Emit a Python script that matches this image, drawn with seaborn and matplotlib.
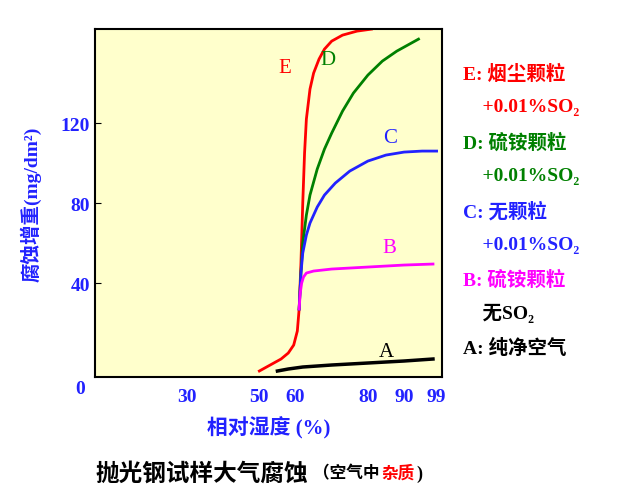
import matplotlib
matplotlib.use("Agg")
import matplotlib.pyplot as plt
import seaborn as sns
import pandas as pd

plt.rcParams["font.family"] = ["Liberation Serif", "Noto Sans CJK SC"]

E_x = [50, 53, 56, 58, 59.5, 60.5, 61, 61.5, 62, 62.5, 63, 64, 65, 66.5, 68, 70, 73, 77, 81]
E_y = [-4, -1, 2, 5, 9, 16, 27, 50, 80, 105, 122, 137, 145, 152, 157, 161, 164, 166, 167]
D_x = [61, 61.5, 62, 63, 64, 66, 68, 70, 73, 76, 80, 84, 88, 94]
D_y = [27, 45, 60, 74, 84, 97, 107, 115, 126, 135, 144, 151, 156, 162]
C_x = [61, 61.5, 62, 63, 64, 66, 68, 71, 75, 80, 85, 90, 95, 99]
C_y = [27, 45, 55, 64, 70, 78, 84, 90, 96, 101, 104, 105.5, 106, 106]
B_x = [61, 61.3, 61.7, 62.2, 63, 65, 70, 80, 90, 98]
B_y = [27, 35, 40, 43, 45, 46, 47, 48, 49, 49.5]
A_x = [55, 58, 62, 70, 80, 90, 98]
A_y = [-4, -3, -2, -1, 0, 1, 2]

series = [("E", E_x, E_y, "#ff0000"), ("D", D_x, D_y, "#008000"),
          ("C", C_x, C_y, "#2222ff"), ("B", B_x, B_y, "#ff00ff"),
          ("A", A_x, A_y, "#000000")]
x_ticks = [30, 50, 60, 80, 90, 99]
y_ticks = [40, 80, 120]

fig = plt.figure(figsize=(6.36, 5.02), dpi=100)
ax = fig.add_axes([0.149, 0.247, 0.546, 0.693])
ax.set_facecolor("#ffffcc")
for name, xs, ys, c in series:
    df = pd.DataFrame({"x": xs, "y": ys})
    sns.lineplot(data=df, x="x", y="y", ax=ax, color=c, lw=2 if name != "A" else 2.5, sort=False)
ax.set_xlim(4.5, 100.5)
ax.set_ylim(-7, 167)
ax.set_xticks(x_ticks)
ax.set_xticklabels([str(t) for t in x_ticks], fontsize=14, fontweight="bold", color="#2222ff")
ax.set_yticks(y_ticks)
ax.set_yticklabels([str(t) for t in y_ticks], fontsize=14, fontweight="bold", color="#2222ff")
ax.tick_params(axis="x", length=0, pad=8)
ax.tick_params(axis="y", length=4, direction="in")
for s in ax.spines.values():
    s.set_linewidth(1.5)
ax.set_xlabel("相对湿度 (%)", fontsize=15, fontweight="bold", color="#2222ff", labelpad=8)
ax.set_ylabel("腐蚀增重(mg/dm²)", fontsize=14, fontweight="bold", color="#2222ff", labelpad=14)
fig.text(0.126, 0.215, "0", fontsize=14, fontweight="bold", color="#2222ff", ha="center")

lab = {"E": (57, 148), "D": (69, 152), "C": (86, 113), "B": (86, 58), "A": (85, 6)}
for name, xs, ys, c in series:
    ax.text(*lab[name], name, color=c, fontsize=15, ha="center", va="center")

leg = [("E: 烟尘颗粒", "#ff0000", 0.852), ("    +0.01%SO₂", "#ff0000", 0.785),
       ("D: 硫铵颗粒", "#008000", 0.715), ("    +0.01%SO₂", "#008000", 0.648),
       ("C: 无颗粒", "#2222ff", 0.578), ("    +0.01%SO₂", "#2222ff", 0.511),
       ("B: 硫铵颗粒", "#ff00ff", 0.443), ("    无SO₂", "#000000", 0.376),
       ("A: 纯净空气", "#000000", 0.306)]
for t, c, y in leg:
    fig.text(0.728, y, t, color=c, fontsize=14, fontweight="bold", va="center")

fig.text(0.15, 0.055, "抛光钢试样大气腐蚀", fontsize=17, fontweight="bold", va="center")
fig.text(0.492, 0.055, "（空气中", fontsize=12, fontweight="bold", va="center")
fig.text(0.6, 0.055, "杂质", fontsize=12, fontweight="bold", color="#ff0000", va="center")
fig.text(0.655, 0.055, ")", fontsize=13, fontweight="bold", va="center")
fig.savefig("out.png", dpi=100)
